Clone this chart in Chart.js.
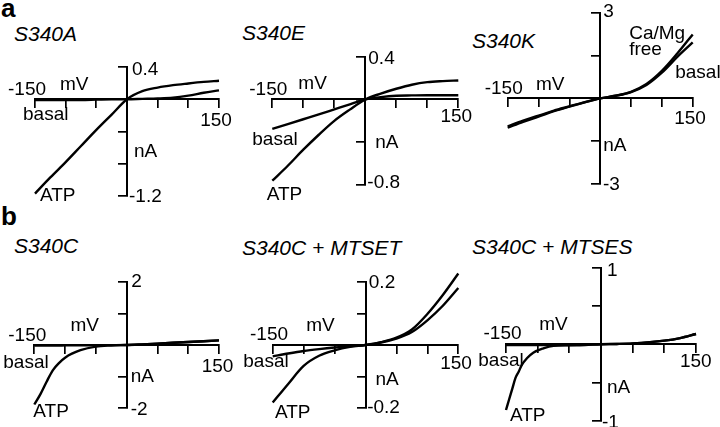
<!DOCTYPE html>
<html>
<head>
<meta charset="utf-8">
<script src="https://cdn.jsdelivr.net/npm/chart.js@4.4.1/dist/chart.umd.min.js"></script>
<style>
  html, body { margin: 0; padding: 0; background: #fff; }
  #fig { position: relative; width: 720px; height: 427px; overflow: hidden; }
  canvas { position: absolute; }
  .lbl { position: absolute; line-height: 1; white-space: nowrap; color: #000;
         font-family: "Liberation Sans", Arial, sans-serif; }
  .letter { font-weight: bold; font-size: 26px; }
  .title { font-style: italic; font-size: 21px; }
</style>
</head>
<body>
<div id="fig">
  <div class="lbl letter" style="left:1px;top:-5.5px">a</div>
  <div class="lbl letter" style="left:1px;top:203px">b</div>
  <div class="lbl title" style="left:14px;top:22.9px">S340A</div>
  <div class="lbl title" style="left:242px;top:21.5px">S340E</div>
  <div class="lbl title" style="left:472px;top:29.9px">S340K</div>
  <div class="lbl title" style="left:14px;top:234.9px">S340C</div>
  <div class="lbl title" style="left:242px;top:236.5px">S340C + MTSET</div>
  <div class="lbl title" style="left:472px;top:235.5px">S340C + MTSES</div>
</div>
<script>
// voltage (mV) and axis ranges
const xRange = [-150, 150];
const mvStd = [-150, -125, -100, -75, -50, -25, 0, 25, 50, 75, 100, 125, 150];
const mvC = [-150, -140, -130, -120, -110, -100, -75, -50, -25, 0, 25, 50, 75, 100, 125, 150];
const mvS = [-150, -145, -140, -135, -130, -125, -117, -107, -91, -75, -50, -25, 0, 25, 50, 100, 125, 150];

// S340A (nA)
const rangeA = [-1.2, 0.4];
const atpA = [-1.17, -0.97, -0.78, -0.58, -0.38, -0.19, 0, 0.1, 0.145, 0.175, 0.196, 0.215, 0.23];
const basalA = [-0.01, -0.01, -0.01, -0.01, -0.005, 0, 0, 0.005, 0.01, 0.02, 0.045, 0.08, 0.11];

// S340E
const rangeE = [-0.8, 0.4];
const atpE = [-0.76, -0.62, -0.47, -0.33, -0.2, -0.095, 0, 0.055, 0.1, 0.138, 0.162, 0.172, 0.178];
const basalE = [-0.275, -0.23, -0.185, -0.14, -0.093, -0.046, 0, 0.022, 0.035, 0.038, 0.04, 0.04, 0.04];

// S340K
const rangeK = [-3, 3];
const freeK = [-1.03, -0.82, -0.64, -0.45, -0.29, -0.14, 0, 0.09, 0.23, 0.5, 0.96, 1.57, 2.24];
const basalK = [-0.98, -0.78, -0.61, -0.43, -0.28, -0.13, 0, 0.09, 0.22, 0.47, 0.9, 1.45, 1.96];

// S340C
const rangeC = [-2, 2];
const atpC = [-1.88, -1.55, -1.16, -0.8, -0.57, -0.4, -0.165, -0.05, -0.015, 0, 0.02, 0.045, 0.07, 0.095, 0.12, 0.145];
const basalC = [-0.02, -0.02, -0.018, -0.016, -0.015, -0.013, -0.01, -0.007, -0.003, 0, 0.02, 0.045, 0.07, 0.095, 0.12, 0.145];

// S340C + MTSET
const rangeT = [-0.2, 0.2];
const atpT = [-0.182, -0.123, -0.066, -0.034, -0.017, -0.006, 0, 0.009, 0.023, 0.049, 0.098, 0.158, 0.226];
const basalT = [-0.036, -0.027, -0.019, -0.013, -0.008, -0.004, 0, 0.008, 0.02, 0.041, 0.078, 0.124, 0.18];

// S340C + MTSES
const rangeS = [-1, 1];
const atpS = [-0.86, -0.72, -0.58, -0.44, -0.36, -0.27, -0.184, -0.111, -0.054, -0.022, -0.015, -0.01, 0, 0.003, 0.01, 0.046, 0.08, 0.133];
const basalS = [-0.012, -0.012, -0.012, -0.012, -0.012, -0.012, -0.012, -0.012, -0.012, -0.012, -0.01, -0.006, 0, 0.003, 0.01, 0.046, 0.08, 0.133];

const notesPlugin = {
  id: 'notes',
  afterDraw(chart, args, opts) {
    const ctx = chart.ctx, xs = chart.scales.x, ys = chart.scales.y;
    ctx.save();
    ctx.font = '19px "Liberation Sans", Arial, sans-serif';
    ctx.fillStyle = '#000';
    ctx.textBaseline = 'alphabetic';
    (opts.items || []).forEach(([t, x, y, dx, dy, align]) => {
      ctx.textAlign = align || 'left';
      ctx.fillText(t, xs.getPixelForValue(x) + dx, ys.getPixelForValue(y) + dy);
    });
    ctx.restore();
  }
};

function endNotes(yr, o) {
  return [
    [String(xRange[0]), xRange[0], 0, o[0], o[1], 'center'],
    [String(xRange[1]), xRange[1], 0, o[2], o[3], 'center'],
    [String(yr[1]), 0, yr[1], o[4], o[5]],
    [String(yr[0]), 0, yr[0], o[6], o[7]]
  ];
}

const panels = [
  { left: 0, top: 0, w: 240, h: 205, pad: { left: 35, right: 21, top: 67, bottom: 9 },
    mv: mvStd, series: [atpA, basalA], yr: rangeA, step: 0.4,
    notes: endNotes(rangeA, [-8, -4, -3, 27, 5, 8, 2, 6]).concat([
      ['nA', 0, -0.717, 7, 0], ['mV', -86, 0, 0, -9, 'center'],
      ['basal', -150, 0, -12, 21], ['ATP', -150, -1.2, 5, 4.6]]) },
  { left: 240, top: 0, w: 250, h: 205, pad: { left: 32.3, right: 31.7, top: 56.7, bottom: 20 },
    mv: mvStd, series: [atpE, basalE], yr: rangeE, step: 0.4,
    notes: endNotes(rangeE, [-4, -4.5, -2, 23, 3, 7.5, 2, 3.3]).concat([
      ['nA', 0, -0.454, 10, 0], ['mV', -85, 0, 0, -10, 'center'],
      ['basal', -150, 0, -20, 46], ['ATP', -150, -0.8, -5.6, 15]]) },
  { left: 470, top: 0, w: 250, h: 205, pad: { left: 37.7, right: 27.3, top: 12.7, bottom: 21 },
    mv: mvStd, series: [freeK, basalK], yr: rangeK, step: 1.5,
    notes: endNotes(rangeK, [-4, -4, -2.7, 26, 3, 4.6, 2.7, 6]).concat([
      ['nA', 0, -1.83, 3, 0], ['mV', -81, 0, 0, -8.3, 'center'],
      ['Ca/Mg', 47, 2.07, 0, 0], ['free', 47, 1.52, 0, 0], ['basal', 121.6, 0.7, 0, 0]]) },
  { left: 0, top: 205, w: 240, h: 222, pad: { left: 34.3, right: 21, top: 76.7, bottom: 18.7 },
    mv: mvC, series: [atpC, basalC], yr: rangeC, step: 1,
    notes: endNotes(rangeC, [-7, -4, -1.5, 27.3, 4.7, 5.6, 4, 6.7]).concat([
      ['nA', 0, -1.16, 4, 0], ['mV', -68, 0, 0, -14, 'center'],
      ['basal', -150, 0, -31, 22.7], ['ATP', -150, -2, -1, 8.4]]) },
  { left: 240, top: 205, w: 250, h: 222, pad: { left: 32.7, right: 31.7, top: 76.7, bottom: 18.7 },
    mv: mvStd, series: [atpT, basalT], yr: rangeT, step: 0.1,
    notes: endNotes(rangeT, [-3.7, -5, -2.3, 24.3, 3.3, 6.6, 1.7, 5]).concat([
      ['nA', 0, -0.126, 10, 0], ['mV', -72.7, 0, 0, -14.3, 'center'],
      ['basal', -150, 0, -29.4, 21.7], ['ATP', -150, -0.2, 2.3, 10]]) },
  { left: 470, top: 205, w: 250, h: 222, pad: { left: 36, right: 24, top: 62.7, bottom: 6.3 },
    mv: mvS, series: [atpS, basalS], yr: rangeS, step: 0.5,
    notes: endNotes(rangeS, [-3.5, -5, -0.2, 22.5, 6, 8.3, 1, 7]).concat([
      ['nA', 0, -0.634, 6, 0], ['mV', -75, 0, 0, -14, 'center'],
      ['basal', -150, 0, -27.7, 22], ['ATP', -150, -1, 4, 0]]) }
];

const fig = document.getElementById('fig');

panels.forEach(p => {
  const canvas = document.createElement('canvas');
  canvas.width = p.w;
  canvas.height = p.h;
  canvas.style.left = p.left + 'px';
  canvas.style.top = p.top + 'px';
  canvas.style.width = p.w + 'px';
  canvas.style.height = p.h + 'px';
  fig.appendChild(canvas);

  const axisStyle = {
    border: { display: true, color: '#000', width: 2 },
    grid: { display: true, drawOnChartArea: false, drawTicks: true, tickLength: 8, color: '#000', lineWidth: 1.7 },
    ticks: { display: false }
  };

  new Chart(canvas, {
    type: 'line',
    data: {
      datasets: p.series.map(s => ({
        data: p.mv.map((v, i) => ({ x: v, y: s[i] })),
        borderColor: '#000',
        borderWidth: 2.4,
        pointRadius: 0,
        fill: false,
        clip: false,
        cubicInterpolationMode: 'monotone'
      }))
    },
    options: {
      responsive: false,
      animation: false,
      devicePixelRatio: 1,
      layout: { padding: p.pad },
      plugins: { legend: { display: false }, tooltip: { enabled: false }, notes: { items: p.notes } },
      scales: {
        x: Object.assign({ type: 'linear', position: { y: 0 }, min: xRange[0], max: xRange[1] }, axisStyle,
          { ticks: { display: false, stepSize: 50 } }),
        y: Object.assign({ type: 'linear', position: { x: 0 }, min: p.yr[0], max: p.yr[1] }, axisStyle,
          { ticks: { display: false, stepSize: p.step } })
      }
    },
    plugins: [notesPlugin]
  });
});
</script>
</body>
</html>
